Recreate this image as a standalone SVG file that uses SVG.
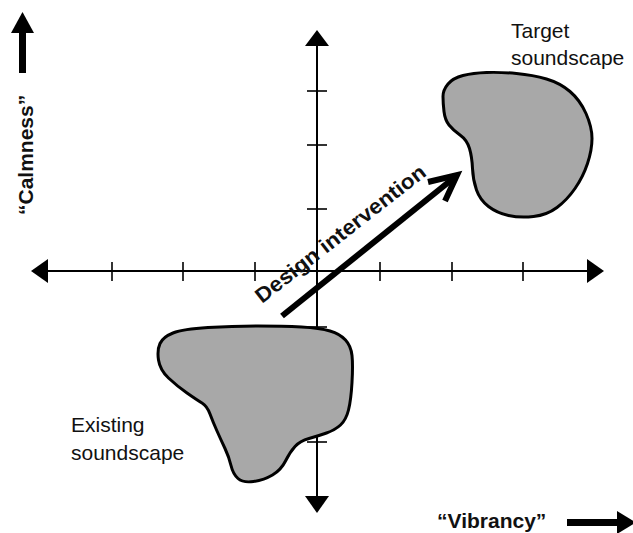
<svg xmlns="http://www.w3.org/2000/svg" width="633" height="533" viewBox="0 0 633 533">
<style>
.ax{stroke:#000;stroke-width:2;fill:none}
.tk{stroke:#000;stroke-width:1.6;fill:none}
.blob{fill:#a8a8a8;stroke:#000;stroke-width:3;stroke-linejoin:round}
.lbl{font-family:"Liberation Sans",Arial,sans-serif;font-size:21px;fill:#111}
.bl{font-family:"Liberation Sans",Arial,sans-serif;font-size:21px;font-weight:bold;fill:#111}
</style>
<rect width="633" height="533" fill="#fff"/>
<g id="axes">
<line class="ax" x1="46" y1="271" x2="590" y2="271"/>
<line class="ax" x1="317" y1="44" x2="317" y2="498"/>
<polygon points="31,271 48,259 48,283" fill="#000"/>
<polygon points="604,271 587,259 587,283" fill="#000"/>
<polygon points="317,30 305,46 329,46" fill="#000"/>
<polygon points="317,513 305,496 329,496" fill="#000"/>
<g class="tk">
<line x1="112" y1="262" x2="112" y2="281"/>
<line x1="183" y1="262" x2="183" y2="281"/>
<line x1="255" y1="262" x2="255" y2="281"/>
<line x1="380" y1="262" x2="380" y2="281"/>
<line x1="452" y1="262" x2="452" y2="281"/>
<line x1="523" y1="262" x2="523" y2="281"/>
<line x1="307" y1="91" x2="327" y2="91"/>
<line x1="307" y1="145" x2="327" y2="145"/>
<line x1="307" y1="209" x2="327" y2="209"/>
<line x1="307" y1="327" x2="327" y2="327"/>
<line x1="307" y1="442" x2="327" y2="442"/>
</g>
</g>
<g id="existing">
<path class="blob" d="M160,343.5 Q163,337 173,333 Q183,329 208,327.5 Q233,326 258,326 Q283,326 301.5,327 Q320,328 330,331 Q340,334 345.5,340 Q351,346 352,355.5 Q353,365 352,382.5 Q351,400 348.5,410 Q346,420 340.5,425 Q335,430 326.5,433 Q318,436 309,438.5 Q300,441 295,446.5 Q290,452 285.5,461 Q281,470 272.5,475 Q264,480 253.5,481.5 Q243,483 238,478.5 Q233,474 231,465.5 Q229,457 225,448.5 Q221,440 217,431 Q213,422 210,414 Q207,406 202,403 Q197,400 187,393 Q177,386 168.5,378 Q160,370 158.5,360 Q157,350 160,343.5 Z"/>
<text class="lbl" x="71" y="432">Existing</text>
<text class="lbl" x="71" y="460">soundscape</text>
</g>
<g id="target">
<path class="blob" d="M448,84 Q453,78 463,75.5 Q473,73 486.5,72.5 Q500,72 516.5,73.5 Q533,75 546.5,79 Q560,83 570,91.5 Q580,100 586,113.5 Q592,127 592,138.5 Q592,150 587.5,163.5 Q583,177 575,188.5 Q567,200 557,207.5 Q547,215 533.5,216.5 Q520,218 508.5,215.5 Q497,213 488.5,206.5 Q480,200 476.5,190 Q473,180 472.5,168.5 Q472,157 469.5,148.5 Q467,140 460,135 Q453,130 449,125 Q445,120 444,111.5 Q443,103 443,96.5 Q443,90 448,84 Z"/>
<text class="lbl" x="511" y="38">Target</text>
<text class="lbl" x="511" y="65">soundscape</text>
</g>
<g id="connectors">
<line x1="282" y1="316" x2="455" y2="177" stroke="#000" stroke-width="6"/>
<polyline points="428,182 457,175 445,201" fill="none" stroke="#000" stroke-width="6" stroke-linejoin="miter"/>
<text class="bl" x="262" y="304" transform="rotate(-38 262 304)" textLength="210" lengthAdjust="spacingAndGlyphs">Design intervention</text>
</g>
<g id="calmness">
<text class="bl" x="33" y="215" transform="rotate(-90 33 215)">“Calmness”</text>
<rect x="19" y="31" width="7" height="42" fill="#000"/>
<polygon points="22.5,12 11,33 34,33" fill="#000"/>
</g>
<g id="vibrancy">
<text class="bl" x="437" y="528">“Vibrancy”</text>
<rect x="567" y="519" width="55" height="7" fill="#000"/>
<polygon points="636,522.5 617,511 617,534" fill="#000"/>
</g>
</svg>
